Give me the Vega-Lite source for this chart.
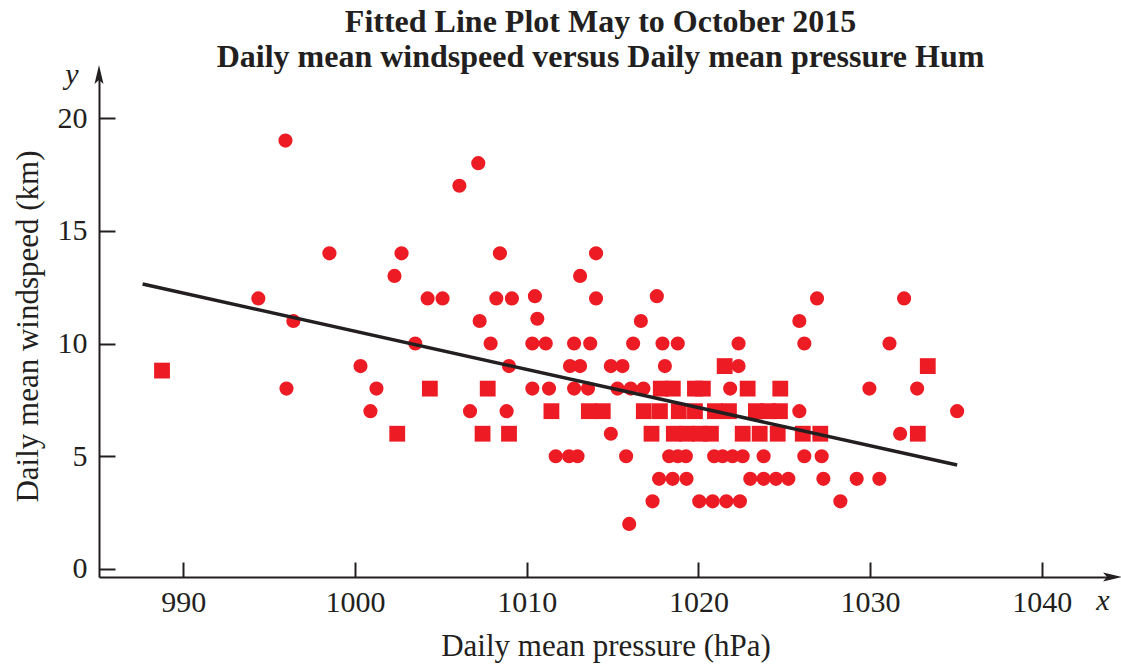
{
  "$schema": "https://vega.github.io/schema/vega-lite/v6.json",
  "width": 1013,
  "height": 502,
  "autosize": {"type": "none"},
  "padding": {"left": 99, "top": 75, "right": 9, "bottom": 89},
  "background": "white",
  "config": {"view": {"stroke": null}, "font": "Liberation Serif"},
  "title": {
    "text": ["Fitted Line Plot May to October 2015", "Daily mean windspeed versus Daily mean pressure Hum"],
    "font": "Liberation Serif",
    "fontSize": 32,
    "fontWeight": "bold",
    "lineHeight": 35,
    "anchor": "middle",
    "offset": 6,
    "dy": 20,
    "dx": -5,
    "color": "#231F20"
  },
  "encoding": {
    "x": {
      "field": "x",
      "type": "quantitative",
      "scale": {"domain": [985.09, 1044.09], "nice": false, "zero": false},
      "axis": {
        "values": [990, 1000, 1010, 1020, 1030, 1040],
        "format": "d",
        "title": "Daily mean pressure (hPa)",
        "grid": false,
        "tickSize": -15,
        "tickWidth": 2,
        "tickColor": "#231F20",
        "domainColor": "#231F20",
        "domainWidth": 2,
        "labelPadding": 25,
        "labelFont": "Liberation Serif",
        "labelFontSize": 30,
        "labelColor": "#231F20",
        "titleFont": "Liberation Serif",
        "titleFontSize": 31,
        "titleFontWeight": "normal",
        "titleColor": "#231F20",
        "titlePadding": 14
      }
    },
    "y": {
      "field": "y",
      "type": "quantitative",
      "scale": {"domain": [-0.355, 21.91], "nice": false, "zero": false},
      "axis": {
        "values": [0, 5, 10, 15, 20],
        "format": "d",
        "title": "Daily mean windspeed (km)",
        "grid": false,
        "tickSize": -16,
        "tickWidth": 2,
        "tickColor": "#231F20",
        "domainColor": "#231F20",
        "domainWidth": 2,
        "labelPadding": 28,
        "labelFont": "Liberation Serif",
        "labelFontSize": 30,
        "labelColor": "#231F20",
        "titleFont": "Liberation Serif",
        "titleFontSize": 31,
        "titleFontWeight": "normal",
        "titleColor": "#231F20",
        "titlePadding": 13
      }
    }
  },
  "layer": [
    {
      "data": {
        "values": [
          {"x": 995.95, "y": 19, "kind": "circle"},
          {"x": 1007.18, "y": 18, "kind": "circle"},
          {"x": 1006.08, "y": 17, "kind": "circle"},
          {"x": 998.51, "y": 14, "kind": "circle"},
          {"x": 1002.71, "y": 14, "kind": "circle"},
          {"x": 1008.44, "y": 14, "kind": "circle"},
          {"x": 1014.04, "y": 14, "kind": "circle"},
          {"x": 1002.3, "y": 13, "kind": "circle"},
          {"x": 1013.11, "y": 13, "kind": "circle"},
          {"x": 994.37, "y": 12, "kind": "circle"},
          {"x": 1004.23, "y": 12, "kind": "circle"},
          {"x": 1005.1, "y": 12, "kind": "circle"},
          {"x": 1008.23, "y": 12, "kind": "circle"},
          {"x": 1009.14, "y": 12, "kind": "circle"},
          {"x": 1010.48, "y": 12.1, "kind": "circle"},
          {"x": 1014.04, "y": 12, "kind": "circle"},
          {"x": 1017.58, "y": 12.1, "kind": "circle"},
          {"x": 1026.91, "y": 12, "kind": "circle"},
          {"x": 1031.98, "y": 12, "kind": "circle"},
          {"x": 996.41, "y": 11, "kind": "circle"},
          {"x": 1007.26, "y": 11, "kind": "circle"},
          {"x": 1010.62, "y": 11.1, "kind": "circle"},
          {"x": 1016.65, "y": 11, "kind": "circle"},
          {"x": 1025.88, "y": 11, "kind": "circle"},
          {"x": 1003.51, "y": 10, "kind": "circle"},
          {"x": 1007.9, "y": 10, "kind": "circle"},
          {"x": 1010.33, "y": 10, "kind": "circle"},
          {"x": 1011.11, "y": 10, "kind": "circle"},
          {"x": 1012.76, "y": 10, "kind": "circle"},
          {"x": 1013.7, "y": 10, "kind": "circle"},
          {"x": 1016.2, "y": 10, "kind": "circle"},
          {"x": 1017.91, "y": 10, "kind": "circle"},
          {"x": 1018.8, "y": 10, "kind": "circle"},
          {"x": 1022.34, "y": 10, "kind": "circle"},
          {"x": 1026.17, "y": 10, "kind": "circle"},
          {"x": 1031.13, "y": 10, "kind": "circle"},
          {"x": 1000.32, "y": 9, "kind": "circle"},
          {"x": 1008.97, "y": 9, "kind": "circle"},
          {"x": 1012.52, "y": 9, "kind": "circle"},
          {"x": 1013.11, "y": 9, "kind": "circle"},
          {"x": 1014.9, "y": 9, "kind": "circle"},
          {"x": 1015.58, "y": 9, "kind": "circle"},
          {"x": 1018.05, "y": 9, "kind": "circle"},
          {"x": 1022.34, "y": 9, "kind": "circle"},
          {"x": 1021.53, "y": 9, "kind": "square"},
          {"x": 1033.36, "y": 9, "kind": "square"},
          {"x": 988.76, "y": 8.8, "kind": "square"},
          {"x": 996.01, "y": 8, "kind": "circle"},
          {"x": 1001.25, "y": 8, "kind": "circle"},
          {"x": 1010.33, "y": 8, "kind": "circle"},
          {"x": 1011.3, "y": 8, "kind": "circle"},
          {"x": 1012.76, "y": 8, "kind": "circle"},
          {"x": 1013.57, "y": 8, "kind": "circle"},
          {"x": 1015.29, "y": 8, "kind": "circle"},
          {"x": 1016.06, "y": 8, "kind": "circle"},
          {"x": 1016.8, "y": 8, "kind": "circle"},
          {"x": 1021.85, "y": 8, "kind": "circle"},
          {"x": 1029.96, "y": 8, "kind": "circle"},
          {"x": 1032.74, "y": 8, "kind": "circle"},
          {"x": 1004.36, "y": 8, "kind": "square"},
          {"x": 1007.73, "y": 8, "kind": "square"},
          {"x": 1017.81, "y": 8, "kind": "square"},
          {"x": 1018.51, "y": 8, "kind": "square"},
          {"x": 1019.8, "y": 8, "kind": "square"},
          {"x": 1020.26, "y": 8, "kind": "square"},
          {"x": 1022.87, "y": 8, "kind": "square"},
          {"x": 1024.77, "y": 8, "kind": "square"},
          {"x": 1000.9, "y": 7, "kind": "circle"},
          {"x": 1006.7, "y": 7, "kind": "circle"},
          {"x": 1008.83, "y": 7, "kind": "circle"},
          {"x": 1025.88, "y": 7, "kind": "circle"},
          {"x": 1035.07, "y": 7, "kind": "circle"},
          {"x": 1011.44, "y": 7, "kind": "square"},
          {"x": 1013.62, "y": 7, "kind": "square"},
          {"x": 1014.43, "y": 7, "kind": "square"},
          {"x": 1016.82, "y": 7, "kind": "square"},
          {"x": 1017.76, "y": 7, "kind": "square"},
          {"x": 1018.86, "y": 7, "kind": "square"},
          {"x": 1019.8, "y": 7, "kind": "square"},
          {"x": 1020.96, "y": 7, "kind": "square"},
          {"x": 1021.78, "y": 7, "kind": "square"},
          {"x": 1023.35, "y": 7, "kind": "square"},
          {"x": 1024.05, "y": 7, "kind": "square"},
          {"x": 1024.75, "y": 7, "kind": "square"},
          {"x": 1014.9, "y": 6, "kind": "circle"},
          {"x": 1031.75, "y": 6, "kind": "circle"},
          {"x": 1002.46, "y": 6, "kind": "square"},
          {"x": 1007.43, "y": 6, "kind": "square"},
          {"x": 1008.97, "y": 6, "kind": "square"},
          {"x": 1017.27, "y": 6, "kind": "square"},
          {"x": 1018.57, "y": 6, "kind": "square"},
          {"x": 1019.33, "y": 6, "kind": "square"},
          {"x": 1020.09, "y": 6, "kind": "square"},
          {"x": 1020.73, "y": 6, "kind": "square"},
          {"x": 1022.58, "y": 6, "kind": "square"},
          {"x": 1023.57, "y": 6, "kind": "square"},
          {"x": 1024.62, "y": 6, "kind": "square"},
          {"x": 1026.08, "y": 6, "kind": "square"},
          {"x": 1027.1, "y": 6, "kind": "square"},
          {"x": 1032.78, "y": 6, "kind": "square"},
          {"x": 1011.69, "y": 5, "kind": "circle"},
          {"x": 1012.47, "y": 5, "kind": "circle"},
          {"x": 1012.96, "y": 5, "kind": "circle"},
          {"x": 1015.79, "y": 5, "kind": "circle"},
          {"x": 1018.3, "y": 5, "kind": "circle"},
          {"x": 1018.8, "y": 5, "kind": "circle"},
          {"x": 1019.27, "y": 5, "kind": "circle"},
          {"x": 1020.92, "y": 5, "kind": "circle"},
          {"x": 1021.41, "y": 5, "kind": "circle"},
          {"x": 1021.99, "y": 5, "kind": "circle"},
          {"x": 1022.58, "y": 5, "kind": "circle"},
          {"x": 1023.8, "y": 5, "kind": "circle"},
          {"x": 1026.17, "y": 5, "kind": "circle"},
          {"x": 1027.18, "y": 5, "kind": "circle"},
          {"x": 1017.71, "y": 4, "kind": "circle"},
          {"x": 1018.5, "y": 4, "kind": "circle"},
          {"x": 1019.31, "y": 4, "kind": "circle"},
          {"x": 1023.02, "y": 4, "kind": "circle"},
          {"x": 1023.8, "y": 4, "kind": "circle"},
          {"x": 1024.52, "y": 4, "kind": "circle"},
          {"x": 1025.24, "y": 4, "kind": "circle"},
          {"x": 1027.28, "y": 4, "kind": "circle"},
          {"x": 1029.22, "y": 4, "kind": "circle"},
          {"x": 1030.54, "y": 4, "kind": "circle"},
          {"x": 1017.33, "y": 3, "kind": "circle"},
          {"x": 1020.05, "y": 3, "kind": "circle"},
          {"x": 1020.83, "y": 3, "kind": "circle"},
          {"x": 1021.63, "y": 3, "kind": "circle"},
          {"x": 1022.42, "y": 3, "kind": "circle"},
          {"x": 1028.27, "y": 3, "kind": "circle"},
          {"x": 1015.97, "y": 2, "kind": "circle"}
        ]
      },
      "mark": {"type": "point", "filled": true, "opacity": 1, "color": "#ED1C24"},
      "encoding": {
        "shape": {"field": "kind", "type": "nominal", "scale": {"domain": ["circle", "square"], "range": ["circle", "square"]}, "legend": null},
        "size": {"field": "kind", "type": "nominal", "scale": {"domain": ["circle", "square"], "range": [200, 250]}, "legend": null}
      }
    },
    {
      "data": {"values": [{"x": 987.63, "y": 12.64}, {"x": 1035.07, "y": 4.61}]},
      "mark": {"type": "line", "color": "#231F20", "strokeWidth": 3.5},
      "encoding": {}
    },
    {
      "data": {"values": [{"x": 985.09, "y": 21.91}]},
      "mark": {"type": "point", "filled": true, "opacity": 1, "color": "#231F20", "size": 400, "shape": "M0,-1L0.45,0.9L0,0.5L-0.45,0.9Z"},
      "encoding": {}
    },
    {
      "data": {"values": [{"x": 1044.09, "y": -0.355}]},
      "mark": {"type": "point", "filled": true, "opacity": 1, "color": "#231F20", "size": 400, "shape": "M1,0L-0.9,0.45L-0.5,0L-0.9,-0.45Z"},
      "encoding": {}
    },
    {
      "data": {"values": [{"x": 985.09, "y": 21.91, "label": "y"}]},
      "mark": {"type": "text", "font": "Liberation Serif", "fontStyle": "italic", "fontSize": 30, "color": "#231F20", "dx": -27, "dy": 0},
      "encoding": {"text": {"field": "label"}}
    },
    {
      "data": {"values": [{"x": 1044.09, "y": -0.355, "label": "x"}]},
      "mark": {"type": "text", "font": "Liberation Serif", "fontStyle": "italic", "fontSize": 30, "color": "#231F20", "dx": -9, "dy": 24},
      "encoding": {"text": {"field": "label"}}
    }
  ]
}
